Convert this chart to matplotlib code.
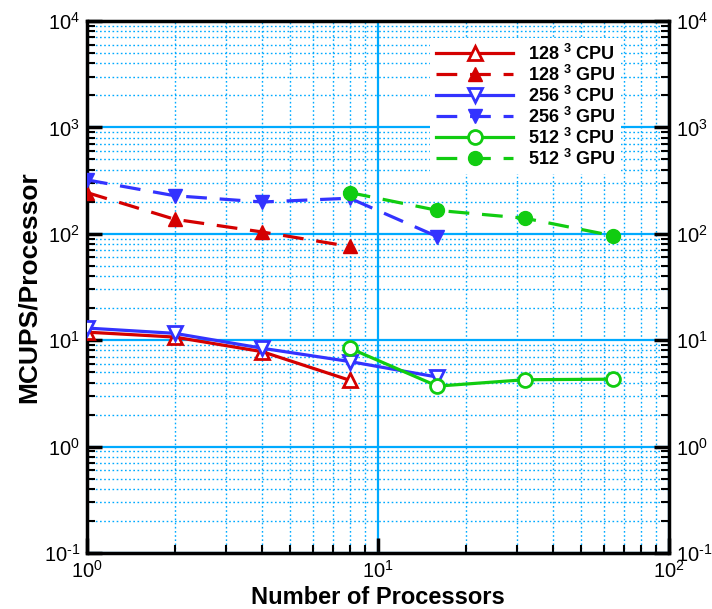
import matplotlib
matplotlib.use("Agg")
import matplotlib.pyplot as plt
from matplotlib import font_manager
from matplotlib.ticker import LogLocator, NullFormatter, FuncFormatter
import math

names = {f.name for f in font_manager.fontManager.ttflist}
narrow = 'Liberation Sans Narrow' if 'Liberation Sans Narrow' in names else None

plt.rcParams['font.family'] = ['Liberation Sans', 'DejaVu Sans']
plt.rcParams['mathtext.fontset'] = 'custom'
plt.rcParams['mathtext.rm'] = narrow if narrow else 'Liberation Sans'
plt.rcParams['mathtext.bf'] = 'Liberation Sans:bold'
plt.rcParams['mathtext.it'] = 'Liberation Sans:italic'

procs_128 = [1, 2, 4, 8]
cpu_128 = [11.9, 10.7, 7.8, 4.2]
gpu_128 = [244, 137, 104, 76]

procs_256 = [1, 2, 4, 8, 16]
cpu_256 = [13.0, 11.6, 8.4, 6.3, 4.5]
gpu_256 = [321, 228, 199, 216, 94]

procs_512 = [8, 16, 32, 64]
cpu_512 = [8.4, 3.7, 4.25, 4.3]
gpu_512 = [244, 166, 140, 96]

labels = [r"128 $^{\mathbf{3}}$ CPU", r"128 $^{\mathbf{3}}$ GPU",
          r"256 $^{\mathbf{3}}$ CPU", r"256 $^{\mathbf{3}}$ GPU",
          r"512 $^{\mathbf{3}}$ CPU", r"512 $^{\mathbf{3}}$ GPU"]

red = '#d40000'
blue = '#3333ff'
green = '#11cc11'
gridc = '#00aaff'


def dec_fmt(v, pos):
    e = int(round(math.log10(v)))
    if e < 0:
        return r"$10^{\text{-%d}}$" % (-e)
    return r"$10^{%d}$" % e


fig = plt.figure(figsize=(7.12, 6.09), dpi=100)
ax = fig.add_axes([0.1222, 0.092, 0.8174, 0.8735])

lw = 2.3
ms = 10
dash = (0, (6.5, 4))
ax.plot(procs_128, cpu_128, '-', color=red, lw=lw, marker='^', ms=ms, mfc='white', mec=red, mew=2, label=labels[0], zorder=5)
ax.plot(procs_128, gpu_128, color=red, lw=lw, ls=dash, marker='^', ms=ms, mfc=red, mec=red, label=labels[1], zorder=5)
ax.plot(procs_256, cpu_256, '-', color=blue, lw=lw, marker='v', ms=ms, mfc='white', mec=blue, mew=2, label=labels[2], zorder=5)
ax.plot(procs_256, gpu_256, color=blue, lw=lw, ls=dash, marker='v', ms=ms, mfc=blue, mec=blue, label=labels[3], zorder=5)
ax.plot(procs_512, cpu_512, '-', color=green, lw=lw, marker='o', ms=ms, mfc='white', mec=green, mew=2, label=labels[4], zorder=5)
ax.plot(procs_512, gpu_512, color=green, lw=lw, ls=dash, marker='o', ms=ms, mfc=green, mec=green, label=labels[5], zorder=5)

ax.set_xscale('log')
ax.set_yscale('log')
ax.set_xlim(1, 100)
ax.set_ylim(0.1, 1e4)

ax.xaxis.set_major_locator(LogLocator(base=10, numticks=10))
ax.yaxis.set_major_locator(LogLocator(base=10, numticks=10))
ax.xaxis.set_minor_locator(LogLocator(base=10, subs=range(2, 10), numticks=20))
ax.yaxis.set_minor_locator(LogLocator(base=10, subs=range(2, 10), numticks=20))
ax.xaxis.set_major_formatter(FuncFormatter(dec_fmt))
ax.yaxis.set_major_formatter(FuncFormatter(dec_fmt))
ax.xaxis.set_minor_formatter(NullFormatter())
ax.yaxis.set_minor_formatter(NullFormatter())

ax.grid(True, which='major', color=gridc, lw=1.6, ls='-', zorder=0)
ax.grid(True, which='minor', color=gridc, lw=1.0, ls=(0, (1.2, 1.8)), zorder=0)
ax.set_axisbelow(True)

for s in ax.spines.values():
    s.set_linewidth(2.5)
    s.set_color('black')

tick_size = 16.5 if narrow else 14.5
ax.tick_params(axis='both', which='major', direction='in', length=11, width=2.5,
               labelsize=tick_size, pad=5)
ax.tick_params(axis='both', which='minor', direction='in', length=6, width=1.5)
ax.tick_params(axis='y', which='both', left=True, right=True, labelleft=True, labelright=True)
ax.tick_params(axis='x', which='both', bottom=True, top=False)
for lab in ax.get_xticklabels() + ax.get_yticklabels():
    if narrow:
        lab.set_family(narrow)

if narrow:
    ax.set_xlabel('Number of Processors', fontsize=20, fontweight='bold', labelpad=3, family=narrow)
else:
    ax.set_xlabel('Number of Processors', fontsize=17, fontweight='bold', labelpad=3)
ax.set_ylabel('MCUPS/Processor', fontsize=19, fontweight='bold', labelpad=2)

leg = ax.legend(loc='upper right', bbox_to_anchor=(0.933, 0.985), frameon=True, fancybox=False,
                edgecolor='none', facecolor='white', framealpha=1.0,
                prop={'weight': 'bold', 'size': 13}, handlelength=4.3,
                labelspacing=0.05, handletextpad=0.8, borderpad=0.3)
leg.set_zorder(10)

fig.savefig('out.png', dpi=100)
